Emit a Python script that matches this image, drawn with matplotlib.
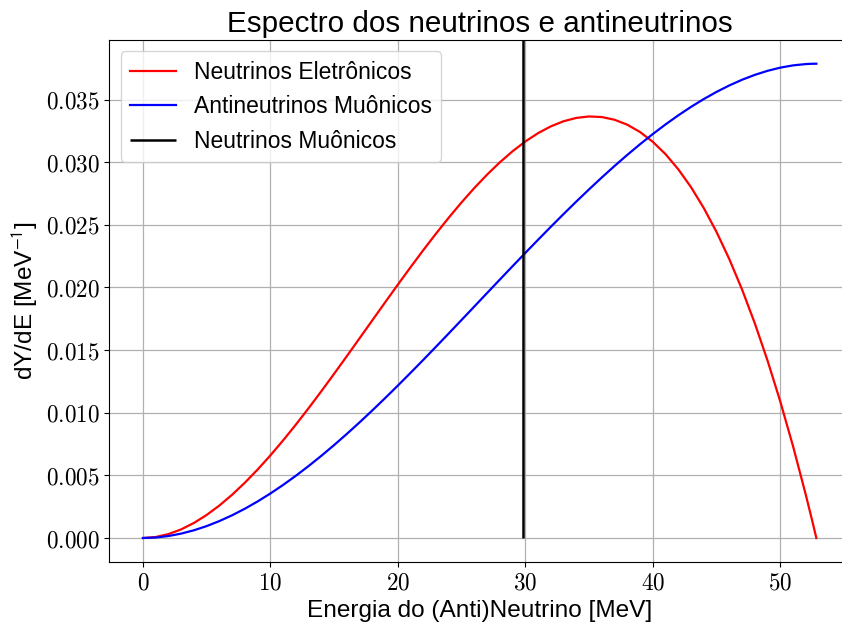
import matplotlib
matplotlib.use("Agg")
import matplotlib.pyplot as plt
from matplotlib.ticker import FuncFormatter, MultipleLocator

# Energies (MeV)
energy = [0, 1, 2, 3, 4, 5, 6, 7, 8, 9, 10, 11, 12, 13, 14, 15, 16, 17, 18, 19,
          20, 21, 22, 23, 24, 25, 26, 27, 28, 29, 30, 31, 32, 33, 34, 35, 36, 37,
          38, 39, 40, 41, 42, 43, 44, 45, 46, 47, 48, 49, 50, 51, 52, 52.5, 52.83]
# dY/dE for electron neutrinos [MeV^-1]
nu_e = [0.0, 0.00007985, 0.0003132, 0.00069085, 0.0012035, 0.0018420, 0.0025971,
        0.0034593, 0.0044198, 0.0054691, 0.0065977, 0.0077968, 0.0090572, 0.010369,
        0.011724, 0.013112, 0.014524, 0.015951, 0.017384, 0.018813, 0.020229,
        0.021624, 0.022986, 0.024309, 0.025581, 0.026794, 0.027940, 0.029007,
        0.029988, 0.030872, 0.031652, 0.032317, 0.032858, 0.033266, 0.033532,
        0.033647, 0.033600, 0.033384, 0.032988, 0.032404, 0.031623, 0.030634,
        0.029429, 0.027999, 0.026335, 0.024425, 0.022264, 0.019839, 0.017143,
        0.014166, 0.010899, 0.0073323, 0.003458, 0.0014011, 0.0]
# dY/dE for muon antineutrinos [MeV^-1]
nubar_mu = [0.0, 0.00004018, 0.0001587, 0.00035236, 0.0006182, 0.00095312, 0.0013540,
            0.0018177, 0.0023414, 0.0029217, 0.0035556, 0.0042402, 0.0049723,
            0.0057487, 0.0065665, 0.0074226, 0.0083137, 0.0092371, 0.010189, 0.011168,
            0.012169, 0.013190, 0.014227, 0.015278, 0.016340, 0.017409, 0.018482,
            0.019557, 0.020630, 0.021698, 0.022758, 0.023807, 0.024842, 0.025860,
            0.026857, 0.027831, 0.028779, 0.029697, 0.030582, 0.031432, 0.032243,
            0.033013, 0.033736, 0.034413, 0.035038, 0.035609, 0.036122, 0.036576,
            0.036966, 0.037289, 0.037543, 0.037724, 0.037829, 0.037853, 0.037857]
# monoenergetic muon neutrino line (MeV)
E_numu = 29.79

labels = ["Neutrinos Eletrônicos", "Antineutrinos Muônicos", "Neutrinos Muônicos"]

plt.rcParams['mathtext.fontset'] = 'cm'
sans = ['Liberation Sans', 'DejaVu Sans']

W, H = 842, 626
fig = plt.figure(figsize=(W / 100, H / 100), dpi=100)
left, right, top, bottom = 109.3, 850.0, 40.0, 561.7
ax = fig.add_axes([left / W, 1 - bottom / H, (right - left) / W, (bottom - top) / H])

ax.plot(energy, nu_e, color='red', lw=1.6, label=labels[0])
ax.plot(energy, nubar_mu, color='blue', lw=1.6, label=labels[1])
ax.set_xlim(-2.64, 55.47)
ax.set_ylim(-0.00189, 0.03975)
ax.vlines(E_numu, 0, 0.03975, color='black', lw=1.8, label=labels[2])

ax.grid(True, color='#b0b0b0', lw=0.9)
ax.set_axisbelow(True)
ax.xaxis.set_major_locator(MultipleLocator(10))
ax.yaxis.set_major_locator(MultipleLocator(0.005))
ax.xaxis.set_major_formatter(FuncFormatter(lambda v, p: f"${v:.0f}$"))
ax.yaxis.set_major_formatter(FuncFormatter(lambda v, p: f"${v:.3f}$"))
ax.tick_params(labelsize=16.7)

ax.set_title("Espectro dos neutrinos e antineutrinos", fontsize=21.3, family=sans)
ax.set_xlabel("Energia do (Anti)Neutrino [MeV]", fontsize=17.6, family=sans)
ax.set_ylabel("dY/dE [MeV$^{-1}$]", fontsize=17.6, family=sans, math_fontfamily='stixsans')

leg = ax.legend(loc='upper left', prop={'family': sans, 'size': 16.5})

fig.savefig("out.png", dpi=100)
